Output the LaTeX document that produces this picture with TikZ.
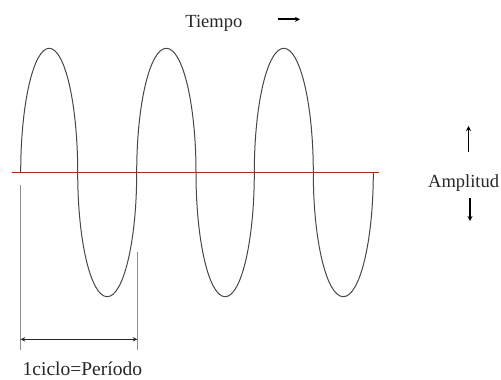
\documentclass[tikz,border=0pt]{standalone}
\usepackage{fontspec}
\setmainfont{Liberation Serif}
\usetikzlibrary{arrows.meta}
\begin{document}
\begin{tikzpicture}[x=1pt,y=-1pt,
  wave/.style={draw=black!72,line width=1pt},
  ext/.style={draw=black!45,line width=1pt},
  axisline/.style={draw=red,line width=1.4pt},
  blackarrow/.style={draw=black,line width=1.9pt,-{Stealth[length=5pt,width=5pt]}},
  dimarrow/.style={draw=black!85,line width=1.5pt,{Stealth[length=4.5pt,width=4.5pt]}-{Stealth[length=4.5pt,width=4.5pt]}},
  lbl/.style={inner sep=0pt,font=\fontsize{18.5}{20}\selectfont,text=black!85}]
\useasboundingbox (0,0) rectangle (501,380);
% wave as half-ellipses
\coordinate (z0) at (20.7,172.7);
\draw[wave] (z0)
  arc[start angle=180,end angle=360,x radius=28.5,y radius=124.4]
  arc[start angle=180,end angle=0,x radius=29.5,y radius=124]
  arc[start angle=180,end angle=360,x radius=29.65,y radius=124.4]
  arc[start angle=180,end angle=0,x radius=29.15,y radius=124]
  arc[start angle=180,end angle=360,x radius=29.5,y radius=124.4]
  arc[start angle=180,end angle=0,x radius=30,y radius=124] coordinate (zend);
% red axis
\coordinate (ra) at (12,172.7);
\coordinate (rb) at (379,172.7);
\draw[axisline] (ra) -- (rb);
% extension lines
\coordinate (e1t) at (20.7,185);
\coordinate (e1b) at (20.7,349.5);
\coordinate (e2t) at (137.3,251.7);
\coordinate (e2b) at (137.3,349.5);
\draw[ext] (e1t) -- (e1b);
\draw[ext] (e2t) -- (e2b);
% period dimension
\coordinate (d1) at (20.7,339.3);
\coordinate (d2) at (137.3,339.3);
\draw[dimarrow] (d1) -- (d2);
% labels
\node[lbl] (tiempo) at (213.8,23.5) {Tiempo};
\coordinate (ta) at (278,19.3);
\coordinate (tb) at (300,19.3);
\draw[blackarrow] (ta) -- (tb);
\node[lbl,anchor=west] (amp) at (428,182.7) {Amplitud};
\coordinate (ua) at (468.5,152);
\coordinate (ub) at (468.5,126);
\draw[blackarrow] (ua) -- (ub);
\coordinate (da) at (470,198);
\coordinate (db) at (470,221);
\draw[blackarrow] (da) -- (db);
\node[lbl,anchor=base west,font=\fontsize{19.5}{20}\selectfont] (ciclo) at (22.5,375.5) {1ciclo=Período};
\end{tikzpicture}
\end{document}
